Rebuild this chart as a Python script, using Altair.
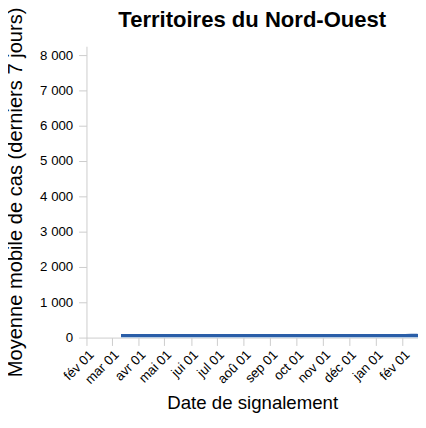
import altair as alt
import pandas as pd

# Weekly 7-day moving average of cases (Northwest Territories)
week_start = ["2020-03-12", "2020-03-19", "2020-03-26", "2020-04-02", "2020-04-09", "2020-04-16",
              "2020-04-23", "2020-04-30", "2020-05-07", "2020-05-14", "2020-05-21", "2020-05-28",
              "2020-06-04", "2020-06-11", "2020-06-18", "2020-06-25", "2020-07-02", "2020-07-09",
              "2020-07-16", "2020-07-23", "2020-07-30", "2020-08-06", "2020-08-13", "2020-08-20",
              "2020-08-27", "2020-09-03", "2020-09-10", "2020-09-17", "2020-09-24", "2020-10-01",
              "2020-10-08", "2020-10-15", "2020-10-22", "2020-10-29", "2020-11-05", "2020-11-12",
              "2020-11-19", "2020-11-26", "2020-12-03", "2020-12-10", "2020-12-17", "2020-12-24",
              "2020-12-31", "2021-01-07", "2021-01-14", "2021-01-21", "2021-01-28", "2021-02-04",
              "2021-02-11", "2021-02-18", "2021-02-25"]
avg_cases = [0.0, 0.1, 0.3, 0.3, 0.0, 0.0,
             0.0, 0.0, 0.0, 0.0, 0.0, 0.0,
             0.0, 0.0, 0.0, 0.1, 0.1, 0.0,
             0.0, 0.0, 0.0, 0.0, 0.0, 0.0,
             0.0, 0.0, 0.0, 0.1, 0.1, 0.0,
             0.0, 0.1, 0.0, 0.0, 0.1, 0.3,
             0.4, 0.1, 0.1, 0.0, 0.3, 0.3,
             0.1, 0.1, 0.0, 0.0, 0.0, 0.6,
             1.3, 1.0, 0.3]

x_domain = ["2020-02-01", "2021-02-19"]
y_max = 8250
tick_dates = ["2020-02-01", "2020-03-01", "2020-04-01", "2020-05-01", "2020-06-01", "2020-07-01",
              "2020-08-01", "2020-09-01", "2020-10-01", "2020-11-01", "2020-12-01", "2021-01-01",
              "2021-02-01"]
month_labels = ["jan", "fév", "mar", "avr", "mai", "jui", "jul", "aoû", "sep", "oct", "nov", "déc"]
y_ticks = [0, 1000, 2000, 3000, 4000, 5000, 6000, 7000, 8000]

df = pd.DataFrame({"date": pd.to_datetime(week_start), "cas": avg_cases})

FONT = "Liberation Sans"
month_arr = "[" + ",".join(f"'{m}'" for m in month_labels) + "]"

x = alt.X(
    "date:T",
    scale=alt.Scale(domain=[pd.Timestamp(d).isoformat() for d in x_domain]),
    axis=alt.Axis(
        title="Date de signalement",
        values=[pd.Timestamp(d).isoformat() for d in tick_dates],
        labelExpr=f"{month_arr}[month(datum.value)] + ' 01'",
        labelAngle=-45,
        labelAlign="right",
        labelBaseline="top",
        labelOverlap=False,
        labelFontSize=13.5,
        labelFont=FONT,
        labelColor="#000",
        titleFont=FONT,
        titleFontSize=19,
        titleFontWeight="normal",
        titleColor="#000",
        titlePadding=8,
        grid=False,
        domainColor="#ccc",
        tickColor="#ccc",
        tickSize=8,
        labelPadding=2,
    ),
)
y = alt.Y(
    "cas:Q",
    scale=alt.Scale(domain=[0, y_max], nice=False),
    axis=alt.Axis(
        title="Moyenne mobile de cas (derniers 7 jours)",
        values=y_ticks,
        labelExpr="replace(format(datum.value, ','), ',', ' ')",
        labelFontSize=13.5,
        labelFont=FONT,
        labelColor="#000",
        titleFont=FONT,
        titleFontSize=20.5,
        titleFontWeight="normal",
        titleColor="#000",
        titlePadding=14,
        grid=False,
        domainColor="#ccc",
        tickColor="#ccc",
        tickSize=8,
        labelPadding=6,
    ),
)

base = alt.Chart(df)
dark = base.mark_line(color="#2a5ea8", strokeWidth=3.5, clip=True).encode(
    x=x, y=y, yOffset=alt.value(-2)
)
light = base.mark_line(color="#9cc0e6", strokeWidth=1.2, clip=True).encode(
    x=x, y=y, yOffset=alt.value(0)
)

chart = (
    alt.layer(dark, light)
    .properties(
        width=338,
        height=297,
        autosize=alt.AutoSizeParams(type="none"),
        padding={"left": 80, "top": 35, "right": 0, "bottom": 80},
        title=alt.TitleParams(
            "Territoires du Nord-Ouest",
            font=FONT,
            fontSize=22.5,
            fontWeight="bold",
            color="#000",
            anchor="middle",
            frame="group",
            offset=10,
            dy=35,
        ),
    )
    .configure_view(stroke=None)
)

chart.save("out.html", embed_options={"renderer": "svg", "actions": False})
